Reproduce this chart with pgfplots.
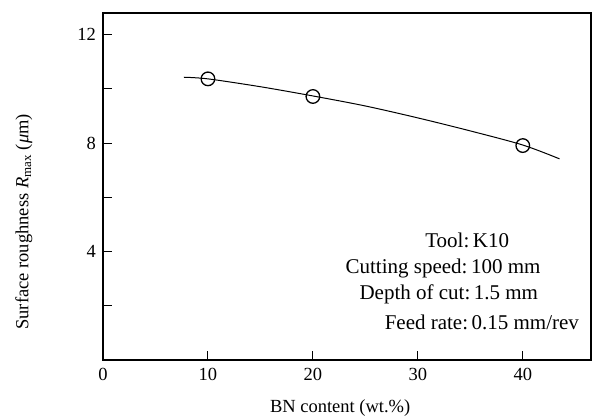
\documentclass[border=0pt]{standalone}
\usepackage{fontspec}
\setmainfont{Liberation Serif}
\usepackage{pgfplots}
\pgfplotsset{compat=1.18}
\begin{document}
\fontsize{18}{21}\selectfont
\begin{tikzpicture}
\begin{axis}[
  scale only axis,
  width=488pt, height=347pt,
  xmin=0, xmax=46.5, ymin=0, ymax=12.8,
  axis line style={line width=1.4pt},
  xtick={0,10,20,30,40},
  ytick={4,8,12},
  minor ytick={2,6,10},
  tick align=inside,
  xtick pos=bottom, ytick pos=left,
  major tick length=9pt, minor tick length=9pt,
  tick style={line width=1pt, black},
  /pgf/number format/assume math mode=true,
  tick label style={font=\fontsize{18.5}{21}\selectfont},
  xticklabel style={yshift=-2pt},
  yticklabel style={xshift=-1pt},
  xlabel={BN content (wt.\%)},
  ylabel={Surface roughness {\itshape R}\textsubscript{max} ({\itshape μ}m)},
  xlabel style={at={(axis description cs:0.486,-0.138)}, anchor=center},
  ylabel style={at={(axis description cs:-0.162,0.398)}, anchor=center},
  label style={font=\fontsize{18.5}{21}\selectfont},
  clip=false,
]
\addplot[black, line width=1pt, smooth, tension=0.5] coordinates {
  (7.7,10.43) (10,10.37) (15,10.08) (20,9.74) (25,9.37) (30,8.93) (35,8.45) (40,7.93) (43.5,7.42)
};
\addplot[only marks, mark=o, mark size=6.8pt, mark options={fill=white, draw=black, line width=1.3pt}] coordinates {
  (10,10.37) (20,9.72) (40,7.91)
};
\node[font=\fontsize{21}{24}\selectfont] at (axis cs:34.7,4.43) {Tool:\,K10};
\node[font=\fontsize{21}{24}\selectfont] at (axis cs:32.4,3.39) {Cutting speed:\,100 mm};
\node[font=\fontsize{21}{24}\selectfont] at (axis cs:32.95,2.44) {Depth of cut:\,1.5 mm};
\node[font=\fontsize{21}{24}\selectfont] at (axis cs:36.1,1.40) {Feed rate:\,0.15 mm/rev};
\end{axis}
\pgfresetboundingbox
\path (current axis.south west) ++(-103pt,-59pt) rectangle ++(592pt,419pt);
\end{tikzpicture}
\end{document}
